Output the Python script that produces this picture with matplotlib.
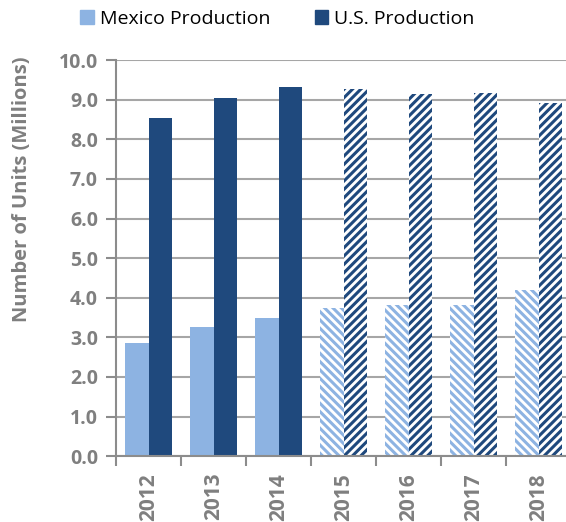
import matplotlib.pyplot as plt
import numpy as np

years = ["2012", "2013", "2014", "2015", "2016", "2017", "2018"]
mexico = [2.85, 3.26, 3.48, 3.74, 3.81, 3.81, 4.19]
us = [8.54, 9.04, 9.32, 9.27, 9.14, 9.17, 8.91]
forecast = [False, False, False, True, True, True, True]

light = "#8db3e2"
dark = "#1f497d"
grey = "#7f7f7f"

plt.rcParams["font.family"] = ["Open Sans", "DejaVu Sans"]
plt.rcParams["hatch.linewidth"] = 2.2

fig = plt.figure(figsize=(5.66, 5.22), dpi=100)
ax = fig.add_axes([0.205, 0.126, 0.804, 0.759])

x = np.arange(len(years))
w = 0.36
for i in x:
    if forecast[i]:
        ax.bar(i - w / 2, mexico[i], w, facecolor="white", edgecolor=light,
               hatch="\\\\\\\\", linewidth=0, zorder=2)
        ax.bar(i + w / 2, us[i], w, facecolor="white", edgecolor=dark,
               hatch="////", linewidth=0, zorder=2)
    else:
        ax.bar(i - w / 2, mexico[i], w, color=light, zorder=2)
        ax.bar(i + w / 2, us[i], w, color=dark, zorder=2)

ax.set_xlim(-0.5, len(years) - 0.5)
ax.set_ylim(0, 10)
ax.set_yticks(np.arange(0, 10.1, 1.0))
ax.set_yticklabels([f"{v:.1f}" for v in np.arange(0, 10.1, 1.0)],
                   fontsize=14, fontweight="bold", color=grey)
ax.yaxis.grid(True, color="#a6a6a6", linewidth=1.5, zorder=0)
ax.set_axisbelow(True)

ax.set_xticks(x)
ax.set_xticklabels(years, rotation=90, fontsize=15, fontweight="bold", color=grey)
ax.set_xticks(np.arange(-0.5, len(years) - 0.4, 1), minor=True)
ax.tick_params(axis="x", which="major", length=0, pad=12)
ax.tick_params(axis="x", which="minor", length=7, width=1.5, color="#8c8c8c")
ax.tick_params(axis="y", length=7, width=1.5, color="#8c8c8c", pad=6)

for s in ["top", "right"]:
    ax.spines[s].set_visible(False)
for s in ["left", "bottom"]:
    ax.spines[s].set_color("#8c8c8c")
    ax.spines[s].set_linewidth(1.5)

ax.set_ylabel("Number of Units (Millions)", fontsize=14.5, fontweight="bold",
              color=grey, va="center")
ax.yaxis.set_label_coords(-0.207, 0.674)

handles = [plt.Rectangle((0, 0), 1, 1, color=light),
           plt.Rectangle((0, 0), 1, 1, color=dark)]
fig.legend(handles, ["Mexico Production", "U.S. Production"], loc="upper center",
           bbox_to_anchor=(0.49, 1.015), ncol=2, frameon=False, fontsize=14,
           handlelength=0.7, handleheight=0.7, columnspacing=2.3, handletextpad=0.3)

fig.savefig("out.png", dpi=100)
